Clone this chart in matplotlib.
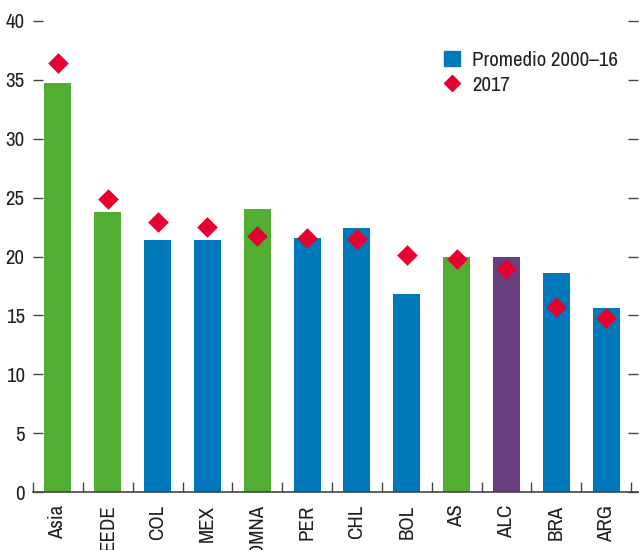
import numpy as np
import matplotlib
matplotlib.use('Agg')
import matplotlib.pyplot as plt
from matplotlib.lines import Line2D
from matplotlib.patches import Patch

plt.rcParams['font.family'] = ['Archivo Narrow', 'DejaVu Sans']

# data
categories = ['Asia', 'EEDE', 'COL', 'MEX', 'OMNA', 'PER', 'CHL', 'BOL', 'AS', 'ALC', 'BRA', 'ARG']
promedio = [34.7, 23.8, 21.4, 21.4, 24.0, 21.6, 22.4, 16.8, 20.0, 20.0, 18.6, 15.6]
valores_2017 = [36.4, 24.9, 22.9, 22.5, 21.7, 21.6, 21.5, 20.1, 19.8, 18.9, 15.7, 14.8]
grupo = ['g', 'g', 'b', 'b', 'g', 'b', 'b', 'b', 'g', 'p', 'b', 'b']

col = {'g': '#51AE32', 'b': '#0079BA', 'p': '#6A3F82'}
red = '#E8002E'
text_col = '#231F20'

fig = plt.figure(figsize=(6.39, 5.5), dpi=100)
ax = fig.add_axes([33/639, 1-492/550, (638-33)/639, (492-21)/550])

x = np.arange(len(categories))
ax.bar(x, promedio, width=0.54, color=[col[g] for g in grupo], zorder=2)
ax.scatter(x, valores_2017, marker='D', s=110, color=red, zorder=3, linewidths=0)

ax.set_xlim(-0.5, 11.64)
ax.set_ylim(0, 40)
ax.set_yticks(np.arange(0, 41, 5))
ax.tick_params(axis='y', direction='in', length=7, width=1, color='#444444',
               labelsize=15, labelcolor=text_col, right=True, pad=6)
ax.set_xticks(x)
ax.set_xticklabels(categories, rotation=90, fontsize=15, color=text_col)
ax.tick_params(axis='x', length=0, pad=9)
ax.set_xticks(np.arange(-0.5, 11.6, 1), minor=True)
ax.tick_params(axis='x', which='minor', direction='in', length=7, width=1, color='#444444')

for s in ['left', 'right', 'top']:
    ax.spines[s].set_visible(False)
ax.spines['bottom'].set_color('#444444')
ax.spines['bottom'].set_linewidth(1.2)

handles = [Patch(color=col['b']),
           Line2D([], [], marker='D', color=red, linestyle='none', markersize=8)]
ax.legend(handles, ['Promedio 2000\u201316', '2017'], loc='upper right',
          bbox_to_anchor=(0.998, 0.977), frameon=False, fontsize=15,
          handlelength=0.75, handleheight=0.75, handletextpad=0.6,
          labelspacing=0.3, labelcolor=text_col)

fig.savefig('out.png', dpi=100)
